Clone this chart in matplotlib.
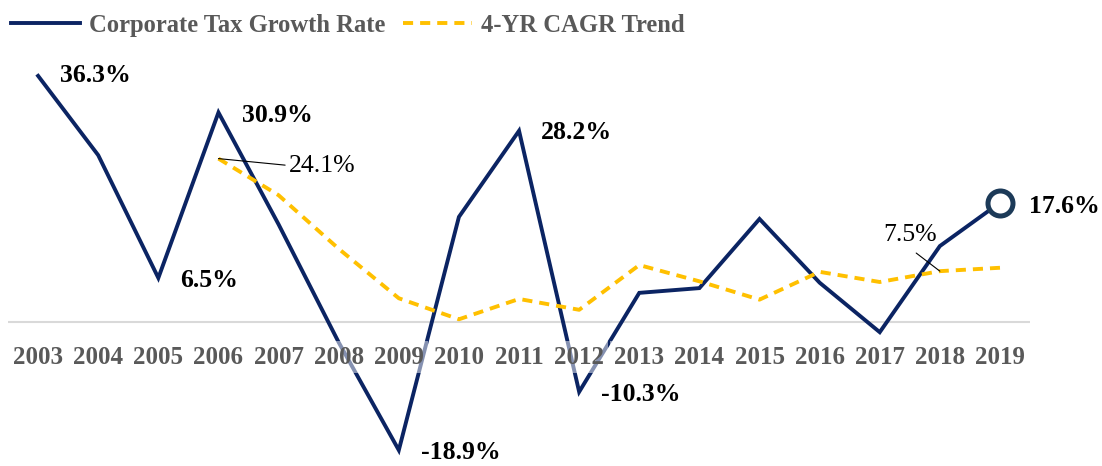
import numpy as np
import matplotlib.pyplot as plt

plt.rcParams['font.family'] = 'Liberation Serif'

# ***** data
years = ['2003', '2004', '2005', '2006', '2007', '2008', '2009', '2010', '2011',
         '2012', '2013', '2014', '2015', '2016', '2017', '2018', '2019']
growth = [36.3, 24.6, 6.5, 30.9, 14.4, -3.0, -18.9, 15.5, 28.2,
          -10.3, 4.3, 5.0, 15.2, 5.8, -1.5, 11.2, 17.6]
cagr = [np.nan, np.nan, np.nan, 24.1, 18.7, 10.8, 3.5, 0.4, 3.4,
        1.8, 8.4, 6.0, 3.3, 7.4, 5.9, 7.5, 8.0]

navy = '#0b2463'
gold = '#ffc000'
grey = '#595959'

x = np.arange(len(years))

fig = plt.figure(figsize=(11.02, 4.66), dpi=100)
ax = fig.add_axes([0.0073, 0.018, 0.9274, 0.873])

ax.axhline(0, color='#d9d9d9', lw=1.5, zorder=1)
ax.plot(x, growth, color=navy, lw=2.8, zorder=2, solid_joinstyle='miter',
        label='Corporate Tax Growth Rate')
ax.plot(x, cagr, color=gold, lw=2.8, ls=(0, (2.6, 1.8)), zorder=2,
        label='4-YR CAGR Trend')
ax.plot(x[-1], growth[-1], 'o', ms=18, mfc='white', mec='#1c3a58', mew=3.6, zorder=3)

ax.set_xlim(-0.5, len(years) - 0.5)
ax.set_ylim(-20, 40)
ax.set_yticks([])
for s in ['left', 'right', 'top']:
    ax.spines[s].set_visible(False)
ax.spines['bottom'].set_position(('data', 0))
ax.spines['bottom'].set_visible(False)
ax.set_axisbelow(False)
ax.set_xticks(x)
ax.set_xticklabels(years, fontsize=18, fontweight='bold', color=grey)
ax.tick_params(axis='x', length=0, pad=17)
for lbl in ax.get_xticklabels():
    lbl.set_bbox(dict(facecolor='white', alpha=0.5, edgecolor='none', pad=3))

# bold labels on growth line
bold_pts = {0: (16, 0), 3: (17, -2), 2: (16, -2), 8: (16, -1), 6: (16, -2),
            9: (16, -2), 16: (21, -3)}
for i, (dx, dy) in bold_pts.items():
    ax.annotate('%.1f%%' % growth[i], (x[i], growth[i]), xytext=(dx, dy),
                textcoords='offset points', ha='left', va='center',
                fontsize=18.5, fontweight='bold', color='black')

# CAGR labels with leader lines
ax.annotate('%.1f%%' % cagr[3], (x[3], cagr[3]), xytext=(51, -5),
            textcoords='offset points', ha='left', va='center', fontsize=18.5,
            arrowprops=dict(arrowstyle='-', color='black', lw=0.8,
                            relpos=(0, 0.5), shrinkA=1, shrinkB=0))
ax.annotate('%.1f%%' % cagr[15], (x[15], cagr[15]), xytext=(-41, 26),
            textcoords='offset points', ha='left', va='center', fontsize=18.5,
            arrowprops=dict(arrowstyle='-', color='black', lw=0.8,
                            relpos=(0.45, 0), shrinkA=5, shrinkB=0))

leg = ax.legend(loc='upper left', bbox_to_anchor=(-0.010, 1.018),
                bbox_transform=fig.transFigure, ncol=2, frameon=False,
                handlelength=2.8, columnspacing=0.75, handletextpad=0.35,
                prop={'size': 17.7, 'weight': 'bold'})
for t in leg.get_texts():
    t.set_color(grey)

plt.savefig('out.png', dpi=100)
